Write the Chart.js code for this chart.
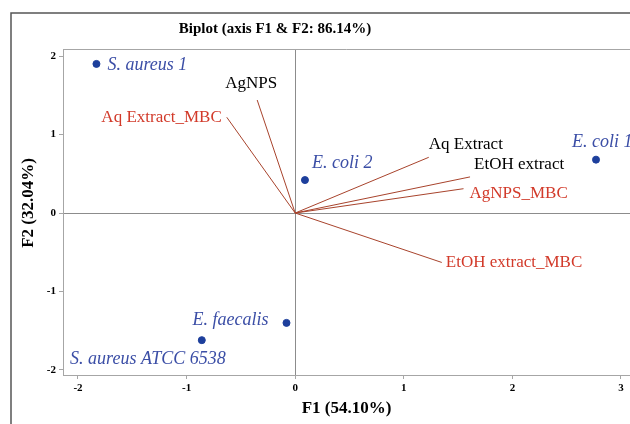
<!DOCTYPE html>
<html>
<head>
<meta charset="utf-8">
<script src="https://cdn.jsdelivr.net/npm/chart.js@4/dist/chart.umd.min.js"></script>
<style>
  html, body { margin: 0; padding: 0; background: #fff; }
  #wrap { width: 630px; height: 424px; }
</style>
</head>
<body>
<div id="wrap"><canvas id="c" width="630" height="424"></canvas></div>
<script>
// Observations (factor scores on F1 / F2)
const obsNames = ['S. aureus 1', 'E. coli 2', 'E. coli 1', 'E. faecalis', 'S. aureus ATCC 6538'];
const obsF1 = [-1.83, 0.09, 2.77, -0.08, -0.86];
const obsF2 = [1.90, 0.42, 0.68, -1.40, -1.62];

// Variables (loadings drawn as vectors from the origin)
const varNames = ['AgNPS', 'Aq Extract_MBC', 'Aq Extract', 'EtOH extract', 'AgNPS_MBC', 'EtOH extract_MBC'];
const varF1 = [-0.35, -0.63, 1.23, 1.61, 1.55, 1.35];
const varF2 = [1.44, 1.22, 0.71, 0.46, 0.31, -0.63];
const varIsMBC = [false, true, false, false, true, true];

const xTicks = [-2, -1, 0, 1, 2, 3];
const yTicks = [-2, -1, 0, 1, 2];

// Label placement (pixel offsets from the mark, text alignment)
const obsLabelPos = [
  { dx: 11, dy: 1, align: 'left' },
  { dx: 7, dy: -17, align: 'left' },
  { dx: -24, dy: -17, align: 'left' },
  { dx: -18, dy: -3, align: 'right' },
  { dx: 24, dy: 19, align: 'right' }
];
const varLabelPos = [
  { dx: -6, dy: -16, align: 'center' },
  { dx: -5, dy: 0, align: 'right' },
  { dx: 0, dy: -13, align: 'left' },
  { dx: 4, dy: -12, align: 'left' },
  { dx: 6, dy: 5, align: 'left' },
  { dx: 4, dy: 0, align: 'left' }
];

const SERIF = '"Liberation Serif", "Times New Roman", serif';
const BLUE = '#1d3f9c';
const LABEL_BLUE = '#3b4ea6';
const VEC = '#a8432c';
const RED = '#d23a2a';
const AXIS_GRAY = '#a6a6a6';

const datasets = [];
varNames.forEach((n, i) => {
  datasets.push({
    label: n,
    type: 'line',
    data: [{ x: 0, y: 0 }, { x: varF1[i], y: varF2[i] }],
    borderColor: VEC,
    borderWidth: 1,
    pointRadius: 0,
    fill: false
  });
});
datasets.push({
  label: 'Observations',
  type: 'scatter',
  data: obsNames.map((n, i) => ({ x: obsF1[i], y: obsF2[i] })),
  backgroundColor: BLUE,
  borderColor: BLUE,
  pointRadius: 3.5,
  pointHoverRadius: 3.5
});

const framePlugin = {
  id: 'frame',
  beforeDraw(chart) {
    const ctx = chart.ctx;
    ctx.save();
    ctx.fillStyle = '#fff';
    ctx.fillRect(0, 0, chart.width, chart.height);
    ctx.strokeStyle = '#555';
    ctx.lineWidth = 1.5;
    ctx.strokeRect(11, 13, 700, 500);
    ctx.restore();
  },
  afterDraw(chart) {
    const ctx = chart.ctx;
    const a = chart.chartArea;
    ctx.save();
    // plot area edges
    ctx.strokeStyle = AXIS_GRAY;
    ctx.lineWidth = 1;
    ctx.beginPath();
    ctx.moveTo(a.left + 0.5, a.bottom);
    ctx.lineTo(a.left + 0.5, a.top + 0.5);
    ctx.lineTo(a.right, a.top + 0.5);
    ctx.stroke();
    // chart title
    ctx.fillStyle = '#000';
    ctx.font = 'bold 15px ' + SERIF;
    ctx.textAlign = 'center';
    ctx.textBaseline = 'middle';
    ctx.fillText('Biplot (axis F1 & F2: 86.14%)', 275, 29);
    // vertical axis title
    ctx.font = 'bold 17px ' + SERIF;
    ctx.translate(29, 203);
    ctx.rotate(-Math.PI / 2);
    ctx.fillText('F2 (32.04%)', 0, 0);
    ctx.restore();
  }
};

const labelPlugin = {
  id: 'markLabels',
  afterDatasetsDraw(chart) {
    const ctx = chart.ctx;
    const xs = chart.scales.x, ys = chart.scales.y;
    ctx.save();
    ctx.textBaseline = 'middle';
    ctx.font = 'italic 18px ' + SERIF;
    ctx.fillStyle = LABEL_BLUE;
    obsNames.forEach((n, i) => {
      const p = obsLabelPos[i];
      ctx.textAlign = p.align;
      ctx.fillText(n, xs.getPixelForValue(obsF1[i]) + p.dx, ys.getPixelForValue(obsF2[i]) + p.dy);
    });
    ctx.font = '17px ' + SERIF;
    varNames.forEach((n, i) => {
      const p = varLabelPos[i];
      ctx.textAlign = p.align;
      ctx.fillStyle = varIsMBC[i] ? RED : '#000';
      ctx.fillText(n, xs.getPixelForValue(varF1[i]) + p.dx, ys.getPixelForValue(varF2[i]) + p.dy);
    });
    ctx.restore();
  }
};

new Chart(document.getElementById('c'), {
  type: 'scatter',
  data: { datasets },
  options: {
    responsive: false,
    animation: false,
    events: [],
    layout: { autoPadding: false, padding: { top: 49, left: 0, right: 0, bottom: 0 } },
    plugins: {
      legend: { display: false },
      tooltip: { enabled: false },
      title: { display: false }
    },
    scales: {
      x: {
        type: 'linear',
        position: 'bottom',
        min: -2.138,
        max: 3.083,
        afterBuildTicks(scale) { scale.ticks = xTicks.map(v => ({ value: v })); },
        afterFit(scale) { scale.height = 49; scale.paddingLeft = 0; scale.paddingRight = 0; },
        ticks: {
          font: { family: SERIF, size: 11, weight: 'bold' },
          color: '#000',
          padding: 3,
          maxRotation: 0
        },
        grid: {
          drawOnChartArea: true,
          color: c => (c.tick && c.tick.value === 0) ? '#8c8c8c' : 'rgba(0,0,0,0)',
          tickColor: AXIS_GRAY,
          tickLength: 4
        },
        border: { display: true, color: AXIS_GRAY },
        title: {
          display: true,
          text: 'F1 (54.10%)',
          font: { family: SERIF, size: 17, weight: 'bold' },
          color: '#000',
          padding: { top: 0, bottom: 5 }
        }
      },
      y: {
        type: 'linear',
        position: 'left',
        min: -2.064,
        max: 2.09,
        afterBuildTicks(scale) { scale.ticks = yTicks.map(v => ({ value: v })); },
        afterFit(scale) { scale.width = 63; scale.paddingTop = 0; scale.paddingBottom = 0; },
        ticks: {
          font: { family: SERIF, size: 11, weight: 'bold' },
          color: '#000',
          padding: 3
        },
        grid: {
          drawOnChartArea: true,
          color: c => (c.tick && c.tick.value === 0) ? '#8c8c8c' : 'rgba(0,0,0,0)',
          tickColor: AXIS_GRAY,
          tickLength: 4
        },
        border: { display: true, color: AXIS_GRAY }
      }
    }
  },
  plugins: [framePlugin, labelPlugin]
});
</script>
</body>
</html>
